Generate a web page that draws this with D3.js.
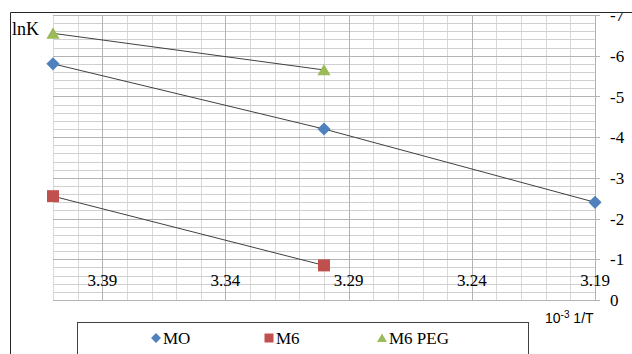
<!DOCTYPE html>
<html>
<head>
<meta charset="utf-8">
<script src="https://cdn.jsdelivr.net/npm/d3@7/dist/d3.min.js"></script>
</head>
<body style="margin:0">
<svg id="chart" width="632" height="354" style="font-family: 'Liberation Serif', 'Times New Roman', serif; background:#fff"></svg>
<script>
// 10^-3 / T values at which lnK was measured
const invT = [3.41, 3.30, 3.19];
// lnK for each sample
const seriesNames = ["MO", "M6", "M6 PEG"];
const moValues = [-5.8, -4.2, -2.4];
const m6Values = [-2.55, -0.85];
const m6PegValues = [-6.55, -5.65];
// axis tick labels
const xTicks = [3.39, 3.34, 3.29, 3.24, 3.19];
const yTicks = [-7, -6, -5, -4, -3, -2, -1, 0];

const colors = { "MO": "#4f81bd", "M6": "#c0504d", "M6 PEG": "#9bbb59" };
const series = [
  { name: "MO", shape: "diamond", values: moValues },
  { name: "M6", shape: "square", values: m6Values },
  { name: "M6 PEG", shape: "triangle", values: m6PegValues }
];

const SERIF = "Liberation Serif";
const SANS = "Liberation Sans";
const svg = d3.select("#chart");

// set a text element's font both as attribute and inline style
function font(sel, family, size) {
  return sel.attr("font-family", family).attr("font-size", size)
    .style("font-family", `"${family}"`).style("font-size", size + "px");
}

const plot = { left: 53, right: 595, top: 15, bottom: 300 };
const x = d3.scaleLinear().domain([3.41, 3.19]).range([plot.left, plot.right]);
const y = d3.scaleLinear().domain([0, -7]).range([plot.bottom, plot.top]);
const px = v => Math.round(v) + 0.5;

// minor grid
const xMinor = d3.range(0, 23).map(i => +(3.19 + i * 0.01).toFixed(2));
const yMinor = d3.range(0, 36).map(i => +(-i * 0.2).toFixed(1));
svg.append("g").selectAll("line").data(xMinor).join("line")
  .attr("x1", d => px(x(d))).attr("x2", d => px(x(d)))
  .attr("y1", plot.top).attr("y2", plot.bottom)
  .attr("stroke", "#d9d9d9");
svg.append("g").selectAll("line").data(yMinor).join("line")
  .attr("x1", plot.left).attr("x2", plot.right)
  .attr("y1", d => px(y(d))).attr("y2", d => px(y(d)))
  .attr("stroke", "#d0d0d0");

// major grid, with short ticks past the right edge
svg.append("g").selectAll("line").data(xTicks).join("line")
  .attr("x1", d => px(x(d))).attr("x2", d => px(x(d)))
  .attr("y1", plot.top).attr("y2", plot.bottom)
  .attr("stroke", "#b3b3b3");
svg.append("g").selectAll("line").data(yTicks).join("line")
  .attr("x1", plot.left).attr("x2", plot.right + 5)
  .attr("y1", d => px(y(d))).attr("y2", d => px(y(d)))
  .attr("stroke", "#b3b3b3");

// plot edges
svg.append("path")
  .attr("d", `M${px(plot.left)},${px(plot.bottom)}H${px(plot.right)}V${plot.top}`)
  .attr("fill", "none").attr("stroke", "#b3b3b3");

// right-hand value labels
font(svg.append("g").selectAll("text").data(yTicks).join("text"), SERIF, 17)
  .attr("x", plot.right + 15).attr("y", d => y(d)).attr("dy", "0.36em").attr("fill", "#000")
  .text(d => d === 0 ? "0" : "-" + Math.abs(d));

// 1/T labels sit just above the bottom of the grid
font(svg.append("g").selectAll("text").data(xTicks).join("text"), SERIF, 17)
  .attr("x", d => x(d)).attr("y", plot.bottom - 20).attr("dy", "0.35em")
  .attr("text-anchor", "middle").attr("fill", "#000")
  .text(d3.format(".2f"));

// axis titles
font(svg.append("text"), SERIF, 18).attr("x", 12).attr("y", 35).attr("fill", "#000").text("lnK");
const xt = font(svg.append("text"), SANS, 14).attr("x", 545).attr("y", 323).attr("fill", "#000");
xt.append("tspan").text("10");
xt.append("tspan").attr("dy", -5).attr("font-size", 10).style("font-size", "10px").text("-3");
xt.append("tspan").attr("dy", 5).text(" 1/T");

// marker shapes
function marker(shape, cx, cy, s) {
  if (shape === "diamond")
    return `M${cx},${cy - s * 0.55}L${cx + s * 0.55},${cy}L${cx},${cy + s * 0.55}L${cx - s * 0.55},${cy}Z`;
  if (shape === "square")
    return `M${cx - s / 2},${cy - s / 2}h${s}v${s}h${-s}Z`;
  return `M${cx},${cy - s * 0.5}L${cx + s * 0.55},${cy + s * 0.45}L${cx - s * 0.55},${cy + s * 0.45}Z`;
}

// series lines and markers
const line = d3.line().x(d => x(d[0])).y(d => y(d[1]));
series.forEach(s => {
  const pts = s.values.map((v, i) => [invT[i], v]);
  svg.append("path").attr("d", line(pts)).attr("fill", "none").attr("stroke", "#404040");
});
series.forEach(s => {
  const pts = s.values.map((v, i) => [invT[i], v]);
  svg.append("g").selectAll("path").data(pts).join("path")
    .attr("d", d => marker(s.shape, x(d[0]), y(d[1]), 12))
    .attr("fill", colors[s.name]);
});

// legend
svg.append("rect").attr("x", 77.5).attr("y", 322.5).attr("width", 451).attr("height", 60)
  .attr("fill", "#fff").attr("stroke", "#404040");
const legendX = d3.scalePoint().domain(seriesNames).range([156, 382]);
series.forEach(s => {
  const cx = legendX(s.name);
  svg.append("path").attr("d", marker(s.shape, cx, 338, 9)).attr("fill", colors[s.name]);
  font(svg.append("text"), SERIF, 17).attr("x", cx + 7).attr("y", 338).attr("dy", "0.35em")
    .attr("fill", "#000").text(s.name);
});

// outer chart frame; anything above its top edge is hidden
svg.append("rect").attr("x", 0).attr("y", 0).attr("width", 632).attr("height", 12).attr("fill", "#fff");
svg.append("rect").attr("x", 0).attr("y", 0).attr("width", 10).attr("height", 354).attr("fill", "#fff");
svg.append("path").attr("d", "M10.5,354V12.5H632")
  .attr("fill", "none").attr("stroke", "#262626");
</script>
</body>
</html>
